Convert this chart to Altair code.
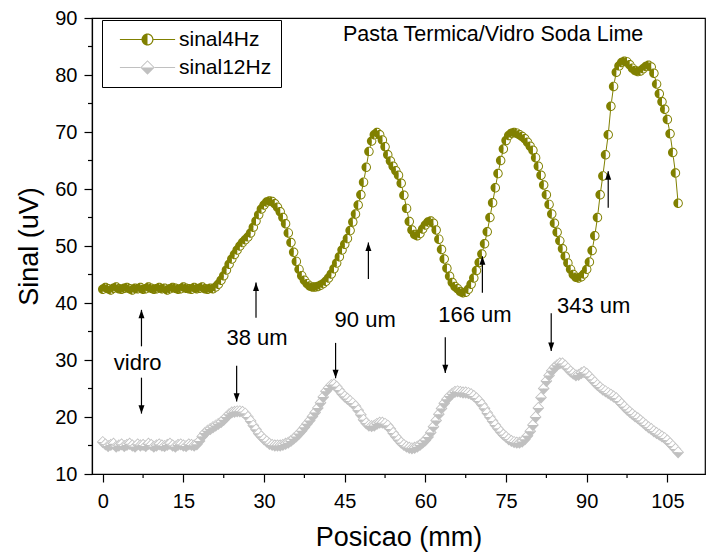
import altair as alt
import pandas as pd

# ---------------- data ----------------
X_START = 0.0
X_STEP = 0.5

SINAL_4HZ = [
    42.4, 42.7, 42.5, 42.3, 42.6, 42.8, 42.5, 42.4, 42.6, 42.7,
    42.5, 42.3, 42.6, 42.5, 42.7, 42.4, 42.5, 42.8, 42.6, 42.4,
    42.5, 42.7, 42.5, 42.6, 42.3, 42.5, 42.7, 42.6, 42.4, 42.5,
    42.8, 42.6, 42.5, 42.4, 42.7, 42.5, 42.6, 42.8, 42.5, 42.4,
    42.6, 42.5, 42.8, 43.3, 44.0, 44.8, 45.8, 46.8, 47.7, 48.5,
    49.3, 50.0, 50.6, 51.1, 51.6, 52.3, 53.3, 54.4, 55.5, 56.5,
    57.2, 57.7, 57.9, 57.8, 57.4, 56.8, 56.0, 55.0, 53.9, 52.3,
    50.6, 48.9, 47.3, 45.9, 44.8, 44.0, 43.4, 43.0, 42.8, 42.8,
    42.9, 43.1, 43.4, 43.8, 44.4, 45.1, 46.0, 47.0, 48.1, 49.3,
    50.3, 51.3, 52.7, 54.2, 55.6, 57.2, 59.0, 61.2, 63.8, 66.6,
    68.4, 69.5, 69.9, 69.5, 68.6, 67.4, 66.0, 64.9, 64.0, 63.2,
    62.4, 61.0, 58.9, 56.6, 54.3, 52.8, 52.0, 51.8, 52.2, 53.0,
    53.7, 54.2, 54.4, 54.0, 52.8, 51.2, 49.4, 47.7, 46.1, 44.7,
    43.6, 42.9, 42.5, 42.0, 41.8, 41.9, 42.4, 43.3, 44.4, 45.7,
    47.1, 48.6, 50.4, 52.5, 55.0, 57.6, 60.2, 62.7, 65.0, 67.0,
    68.5, 69.4, 69.8, 69.9, 69.8, 69.5, 69.2, 68.8, 68.2, 67.5,
    66.8, 65.5, 64.0, 62.4, 60.7, 59.0, 57.3, 55.6, 54.0, 52.4,
    50.9, 49.5, 48.2, 47.0, 45.9, 45.0, 44.5, 44.4, 44.6, 45.1,
    45.9, 47.2, 49.2, 51.8, 55.0, 59.0, 62.3, 66.0, 69.5, 74.5,
    78.0, 80.5, 81.6, 82.2, 82.4, 82.3, 81.8, 81.2, 80.8, 80.6,
    80.7, 81.1, 81.5, 81.7, 81.4, 80.3, 78.4, 76.7, 75.3, 74.0,
    72.2, 69.7, 66.4, 62.8, 57.5,
]

SINAL_12HZ = [
    15.6, 15.2, 14.9, 15.1, 15.3, 14.8, 15.0, 15.2, 14.9, 15.1,
    15.3, 15.0, 14.8, 15.2, 15.0, 15.1, 14.9, 15.3, 15.1, 14.8,
    15.0, 15.2, 15.0, 14.9, 15.1, 15.3, 15.0, 14.8, 15.1, 15.2,
    15.0, 14.9, 15.2, 15.1, 15.0, 15.2, 15.8, 16.6, 17.2, 17.6,
    17.9, 18.2, 18.5, 18.8, 19.1, 19.5, 20.0, 20.5, 20.8, 20.9,
    21.0, 21.0, 20.9, 20.6, 20.0, 19.3, 18.5, 17.8, 17.1, 16.6,
    16.1, 15.7, 15.3, 15.1, 15.0, 15.0, 15.0, 15.1, 15.3, 15.5,
    15.8, 16.2, 16.6, 17.1, 17.6, 18.2, 18.8, 19.4, 20.1, 20.8,
    21.6, 22.5, 23.5, 24.5, 25.1, 25.6, 25.7, 25.3, 24.7, 24.1,
    23.6, 23.2, 22.8, 22.4, 21.9, 21.2, 20.4, 19.5, 18.9, 18.5,
    18.4, 18.5, 18.8, 19.0, 19.0, 18.8, 18.5, 17.9, 17.2, 16.6,
    16.0, 15.5, 15.1, 14.8, 14.6, 14.5, 14.6, 14.8, 15.1, 15.5,
    15.9, 16.5, 17.3, 18.3, 19.4, 20.5, 21.5, 22.4, 23.1, 23.7,
    24.1, 24.4, 24.5, 24.4, 24.3, 24.3, 24.2, 24.0, 23.7, 23.3,
    22.8, 22.2, 21.5, 20.7, 20.0, 19.3, 18.6, 18.0, 17.4, 16.9,
    16.5, 16.1, 15.8, 15.6, 15.5, 15.5, 15.7, 16.1, 16.7, 17.5,
    18.6, 20.0, 21.6, 23.4, 25.0, 26.3, 27.3, 28.1, 28.7, 29.1,
    29.4, 29.4, 29.0, 28.5, 28.0, 27.6, 27.3, 27.4, 27.7, 27.9,
    27.6, 27.1, 26.6, 26.1, 25.6, 25.2, 24.8, 24.5, 24.2, 23.9,
    23.6, 23.3, 22.8, 22.3, 21.8, 21.3, 20.9, 20.5, 20.1, 19.8,
    19.4, 19.0, 18.6, 18.2, 17.9, 17.5, 17.2, 16.9, 16.6, 16.3,
    15.9, 15.4, 14.9, 14.4, 13.8,
]

SERIES_NAMES = ["sinal4Hz", "sinal12Hz"]

X_TICKS = [0, 15, 30, 45, 60, 75, 90, 105]
X_MINOR = [7.5, 22.5, 37.5, 52.5, 67.5, 82.5, 97.5]
Y_TICKS = [10, 20, 30, 40, 50, 60, 70, 80, 90]
Y_MINOR = [15, 25, 35, 45, 55, 65, 75, 85]

CHART_TITLE = "Pasta Termica/Vidro Soda Lime"
CHART_TITLE_X = [72.6]
CHART_TITLE_Y = [87.0]

LABEL_TEXT = ["vidro", "38 um", "90 um", "166 um", "343 um"]
LABEL_X = [6.5, 28.7, 48.8, 69.2, 91.3]
LABEL_Y = [29.5, 33.9, 37.1, 37.9, 39.4]

ARROW_X = [7.2, 7.2, 24.9, 28.5, 43.3, 49.4, 63.7, 70.6, 83.4, 94.0]
ARROW_FROM = [32.4, 26.9, 29.0, 37.4, 33.0, 44.2, 34.0, 41.8, 38.2, 56.7]
ARROW_TO = [38.8, 20.6, 22.7, 43.6, 26.8, 50.6, 27.7, 48.2, 31.6, 63.1]

# ---------------- style ----------------
FONT = "Liberation Sans"
OLIVE = "#808000"
SILVER = "#C0C0C0"

CIRCLE_WHITE = "M 0 -1 A 1 1 0 0 1 0 1 Z"
CIRCLE_COLOR = ("M 0 -1 A 1 1 0 0 0 0 1 Z "
                "M 0 -1 A 1 1 0 0 1 0 1 L 0 0.8 A 0.8 0.8 0 0 0 0 -0.8 Z")
DIAMOND_WHITE = "M -1.25 0 L 0 -1.3 L 1.25 0 Z"
DIAMOND_COLOR = ("M -1.25 0 L 1.25 0 L 0 1.3 Z "
                 "M -1.25 0 L 0 -1.3 L 1.25 0 L 1.0 0 L 0 -1.05 L -1.0 0 Z")
LEG_LINES_C = ("M -4.6 -0.09 L -1 -0.09 L -1 0.09 L -4.6 0.09 Z "
               "M 1 -0.09 L 4.6 -0.09 L 4.6 0.09 L 1 0.09 Z ")
LEG_LINES_D = ("M -4.6 -0.09 L -1.2 -0.09 L -1.2 0.09 L -4.6 0.09 Z "
               "M 1.2 -0.09 L 4.6 -0.09 L 4.6 0.09 L 1.2 0.09 Z ")
LEG_DIAMOND = ("M -1.2 0 L 1.2 0 L 0 1.2 Z "
               "M -1.2 0 L 0 -1.2 L 1.2 0 L 1.0 0 L 0 -1.0 L -1.0 0 Z")
LEGEND_CIRCLE = LEG_LINES_C + CIRCLE_COLOR
LEGEND_DIAMOND = LEG_LINES_D + LEG_DIAMOND
ARROW_UP = "M 0 0 L 1 2.8 L -1 2.8 Z"
ARROW_DOWN = "M 0 0 L 1 -2.8 L -1 -2.8 Z"

KEYS = ["c_w", "c_c", "d_w", "d_c"] + SERIES_NAMES
FILLS = ["white", OLIVE, "white", SILVER, OLIVE, SILVER]
SHAPES = [CIRCLE_WHITE, CIRCLE_COLOR, DIAMOND_WHITE, DIAMOND_COLOR,
          LEGEND_CIRCLE, LEGEND_DIAMOND]

# ---------------- tables ----------------
def xs(n):
    return [X_START + i * X_STEP for i in range(n)]

df4 = pd.DataFrame({"x": xs(len(SINAL_4HZ)), "y": SINAL_4HZ})
df12 = pd.DataFrame({"x": xs(len(SINAL_12HZ)), "y": SINAL_12HZ})

rows = []
for d, (kw, kc) in [(df12, ("d_w", "d_c")), (df4, ("c_w", "c_c"))]:
    for xv, yv in zip(d["x"], d["y"]):
        rows.append({"x": xv, "y": yv, "key": kw})
        rows.append({"x": xv, "y": yv, "key": kc})
pts = pd.DataFrame(rows)

labels_df = pd.DataFrame({"x": LABEL_X, "y": LABEL_Y, "label": LABEL_TEXT})
title_df = pd.DataFrame({"x": CHART_TITLE_X, "y": CHART_TITLE_Y, "label": [CHART_TITLE]})
arrows_df = pd.DataFrame({"x": ARROW_X, "y": ARROW_FROM, "y2": ARROW_TO})
arrows_df["dir"] = ["up" if b > a else "down" for a, b in zip(ARROW_FROM, ARROW_TO)]
heads_df = pd.DataFrame({"x": ARROW_X, "y": ARROW_TO, "dir": arrows_df["dir"]})
xminor_df = pd.DataFrame({"x": X_MINOR})
yminor_df = pd.DataFrame({"y": Y_MINOR})

# ---------------- encodings ----------------
XAXIS = alt.Axis(values=X_TICKS, title="Posicao (mm)", grid=False, tickSize=8,
                 tickWidth=1.2, tickColor="black", domainColor="black",
                 domainWidth=1.2, labelFont=FONT, labelFontSize=20,
                 labelColor="black", labelPadding=9, labelFlush=False,
                 labelOverlap=False, titleFont=FONT, titleFontSize=27,
                 titleFontWeight="normal", titleColor="black", titlePadding=13)
YAXIS = alt.Axis(values=Y_TICKS, title="Sinal (uV)", grid=False, tickSize=8,
                 tickWidth=1.2, tickColor="black", domainColor="black",
                 domainWidth=1.2, labelFont=FONT, labelFontSize=20,
                 labelColor="black", labelPadding=7, labelFlush=False,
                 labelOverlap=False, titleFont=FONT, titleFontSize=27,
                 titleFontWeight="normal", titleColor="black", titlePadding=11)
XS = alt.Scale(domain=[-2, 112], nice=False, zero=False)
YS = alt.Scale(domain=[10, 90], nice=False, zero=False)
X = alt.X("x:Q", scale=XS, axis=XAXIS)
Y = alt.Y("y:Q", scale=YS, axis=YAXIS)

LEG = alt.Legend(values=SERIES_NAMES, title=None, orient="none", legendX=10,
                 legendY=2, symbolSize=144, symbolStrokeWidth=0,
                 symbolOffset=26, padding=9, labelOffset=21, labelFont=FONT,
                 labelFontSize=21, labelColor="black", strokeColor="black",
                 fillColor="white", rowPadding=6)

line12 = alt.Chart(df12).mark_line(color=SILVER, strokeWidth=1).encode(x=X, y=Y)
line4 = alt.Chart(df4).mark_line(color=OLIVE, strokeWidth=1).encode(x=X, y=Y)

markers = alt.Chart(pts).mark_point(filled=True, opacity=1, size=90,
                                    strokeWidth=0).encode(
    x=X, y=Y,
    fill=alt.Fill("key:N", scale=alt.Scale(domain=KEYS, range=FILLS), legend=LEG),
    shape=alt.Shape("key:N", scale=alt.Scale(domain=KEYS, range=SHAPES), legend=LEG),
)

shafts = alt.Chart(arrows_df).mark_rule(color="black", strokeWidth=1.2).encode(
    x=X, y=Y, y2="y2:Q")
heads_up = alt.Chart(heads_df).transform_filter(alt.datum.dir == "up").mark_point(
    shape=ARROW_UP, filled=True, color="black", opacity=1, size=36,
    strokeWidth=0).encode(x=X, y=Y)
heads_down = alt.Chart(heads_df).transform_filter(alt.datum.dir == "down").mark_point(
    shape=ARROW_DOWN, filled=True, color="black", opacity=1, size=36,
    strokeWidth=0).encode(x=X, y=Y)

labels = alt.Chart(labels_df).mark_text(font=FONT, fontSize=22, color="black",
                                        align="center", baseline="middle").encode(
    x=X, y=Y, text="label:N")
title = alt.Chart(title_df).mark_text(font=FONT, fontSize=21.5, color="black",
                                      align="center", baseline="middle").encode(
    x=X, y=Y, text="label:N")

xminor = alt.Chart(xminor_df).mark_rule(color="black", strokeWidth=1.2).encode(
    x=X, y=alt.value(456), y2=alt.value(460))
yminor = alt.Chart(yminor_df).mark_rule(color="black", strokeWidth=1.2).encode(
    y=Y, x=alt.value(0), x2=alt.value(-4))

chart = alt.layer(
    line12, line4, markers, shafts, heads_up, heads_down, labels, title,
    xminor, yminor,
).properties(
    width=613, height=456, autosize=alt.AutoSizeParams(type="none"),
    padding={"left": 92, "top": 18, "right": 15, "bottom": 81},
    background="white",
).configure_view(stroke="black", strokeWidth=1.2)

chart.save("out.html", embed_options={"renderer": "svg", "actions": False})
